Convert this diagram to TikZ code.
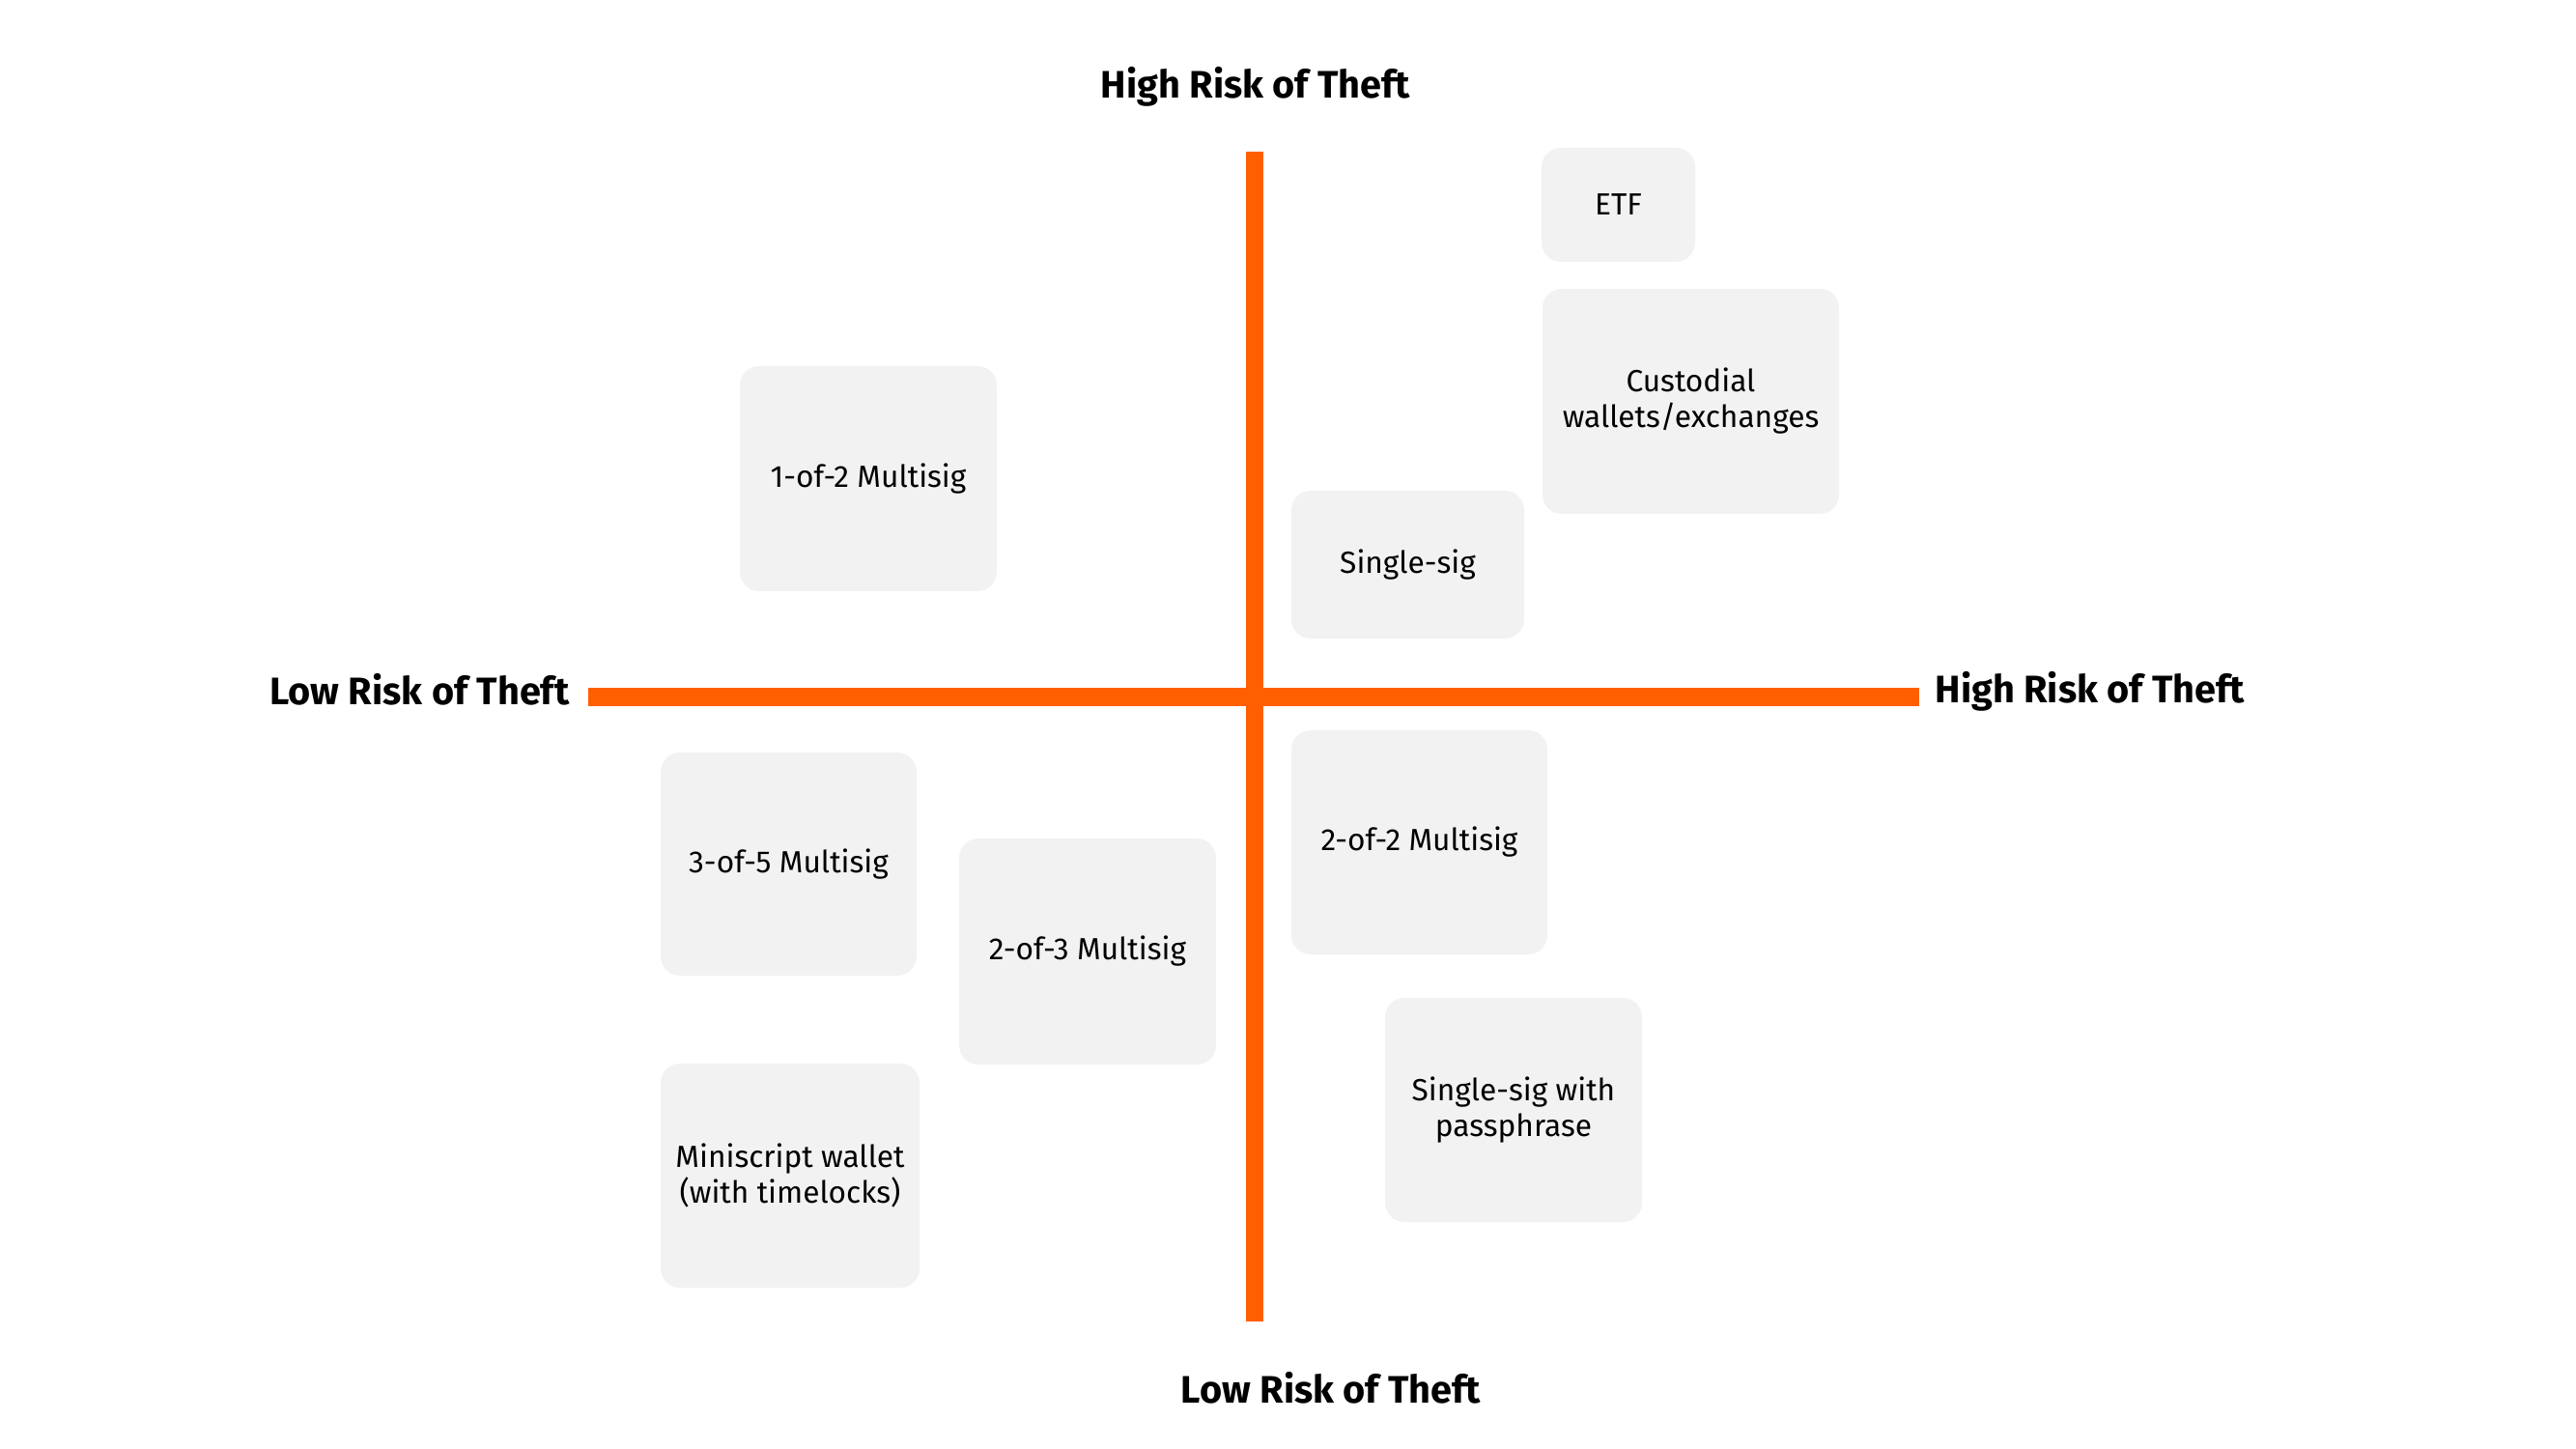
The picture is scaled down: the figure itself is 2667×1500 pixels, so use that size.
\documentclass[tikz,border=0pt]{standalone}
\usepackage{fontspec}
\setmainfont{Fira Sans}
\definecolor{axisorange}{HTML}{FF5F00}
\definecolor{boxgray}{HTML}{F2F2F2}
\begin{document}
\begin{tikzpicture}[x=0.3pt,y=-0.3pt,
  riskbox/.style={rectangle, fill=boxgray, rounded corners=6pt, inner sep=0pt,
    align=center, font=\fontsize{9.5pt}{11.1pt}\selectfont},
  axislabel/.style={inner sep=0pt, font=\fontsize{11.9pt}{14pt}\selectfont\bfseries},
  axisline/.style={draw=axisorange}]
\useasboundingbox[fill=white] (0,0) rectangle (2667,1500);
% axes
\coordinate (vtop) at (1299,157);
\coordinate (vbot) at (1299,1368);
\coordinate (hleft) at (609,721.5);
\coordinate (hright) at (1987,721.5);
\draw[axisline, line width=5.7pt] (hleft) -- (hright);
\draw[axisline, line width=5.4pt] (vtop) -- (vbot);
% axis labels
\node[axislabel, anchor=base] (ltop) at (1300,102) {High Risk of Theft};
\node[axislabel, anchor=base east] (lleft) at (590,730) {Low Risk of Theft};
\node[axislabel, anchor=base west] (lright) at (2003,728) {High Risk of Theft};
\node[axislabel, anchor=base] (lbot) at (1378,1452) {Low Risk of Theft};
% boxes
\node[riskbox, minimum width=159*0.3pt, minimum height=118*0.3pt] (etf) at (1675.5,212) {ETF};
\node[riskbox, minimum width=307*0.3pt, minimum height=233*0.3pt] (cust) at (1750.5,415.5) {Custodial\\wallets/exchanges};
\node[riskbox, minimum width=266*0.3pt, minimum height=233*0.3pt] (m12) at (899,495.5) {1-of-2 Multisig};
\node[riskbox, minimum width=241*0.3pt, minimum height=153*0.3pt] (ss) at (1457.5,584.5) {Single-sig};
\node[riskbox, minimum width=265*0.3pt, minimum height=232*0.3pt] (m22) at (1469.5,872) {2-of-2 Multisig};
\node[riskbox, minimum width=266*0.3pt, minimum height=232*0.3pt] (ssp) at (1567,1149) {Single-sig with\\passphrase};
\node[riskbox, minimum width=265*0.3pt, minimum height=231*0.3pt] (m35) at (816.5,894.5) {3-of-5 Multisig};
\node[riskbox, minimum width=266*0.3pt, minimum height=234*0.3pt] (m23) at (1126,985) {2-of-3 Multisig};
\node[riskbox, minimum width=268*0.3pt, minimum height=232*0.3pt] (mini) at (818,1217) {Miniscript wallet\\(with timelocks)};
\end{tikzpicture}
\end{document}
